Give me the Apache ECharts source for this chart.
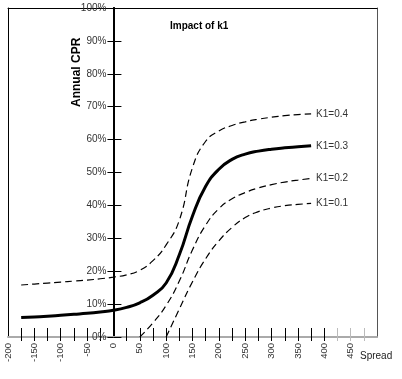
<!DOCTYPE html>
<html><head><meta charset="utf-8">
<script src="https://cdn.jsdelivr.net/npm/echarts@6/dist/echarts.min.js"></script>
<style>html,body{margin:0;padding:0;background:#fff}#c{width:402px;height:379px}</style>
</head><body><div id="c"></div>
<script>
// ---- data ----
const spread = [-175,-150,-125,-100,-75,-50,-25,0,25,50,75,100,125,150,175,200,225,250,275,300,325,350,375];
const cprK04 = [15.8,16.1,16.4,16.7,17.0,17.3,17.7,18.2,18.9,20.3,23.2,28.0,35.5,51.5,59.5,62.6,64.3,65.4,66.2,66.8,67.3,67.6,67.8];
const cprK03 = [5.9,6.1,6.3,6.6,6.9,7.2,7.6,8.1,9.0,10.4,12.7,16.4,25.0,36.8,45.8,51.0,54.0,55.6,56.5,57.1,57.5,57.8,58.1];
const cprK02 = [null,null,null,null,null,null,null,null,null,0,4.3,9.6,17.0,26.5,34.0,39.0,42.0,43.9,45.3,46.3,47.1,47.7,48.2];
const cprK01 = [null,null,null,null,null,null,null,null,null,null,null,0,8.5,16.8,23.8,29.2,33.3,36.3,38.1,39.2,39.9,40.3,40.6];
const seriesNames = ['K1=0.4','K1=0.3','K1=0.2','K1=0.1'];
const xLabelValues = [-200,-150,-100,-50,0,50,100,150,200,250,300,350,400,450];
const xTicksDark = [-175,-150,-125,-100,-75,-50,-25,25,50,75,100,125,150,175,200,225,250,275,300,325,350,375,400];
const xTicksLight = [425,450,475];
const titleText = 'Impact of k1';
const yName = 'Annual CPR';
const xName = 'Spread';

const FONT = '"Liberation Sans", Arial, sans-serif';
function pairs(arr){ return spread.map((x,i)=>[x,arr[i]]).filter(p=>p[1]!==null); }

const allSeries = [cprK04, cprK03, cprK02, cprK01];
const series = allSeries.map((arr, i) => ({
  name: seriesNames[i],
  type: 'line',
  data: pairs(arr),
  showSymbol: false,
  smooth: 0.5,
  xAxisIndex: 0, yAxisIndex: 0,
  z: 5,
  lineStyle: { color: '#000', width: i === 1 ? 3 : 1.2, type: i === 1 ? 'solid' : [7,4] },
  endLabel: { show: true, formatter: seriesNames[i], color: '#333', fontSize: 10, fontFamily: FONT, distance: 5 },
  emphasis: { disabled: true },
  silent: true
}));

const xBase = { type: 'value', min: -200, max: 500, interval: 25, position: 'bottom', splitLine: { show: false } };
const yBase = { type: 'value', min: 0, max: 100, interval: 10, splitLine: { show: false } };
const chart = echarts.init(document.getElementById('c'), null, { renderer: 'canvas' });
chart.setOption({
  animation: false,
  backgroundColor: '#fff',
  grid: { left: 8, top: 8, right: 25, bottom: 42, show: false, containLabel: false, outerBoundsMode: 'none' },
  xAxis: [
    Object.assign({}, xBase, {
      axisLine: { show: true, onZero: false, lineStyle: { color: '#aaa', width: 2 } },
      axisTick: { show: true, customValues: xTicksDark, length: 4, lineStyle: { color: '#000', width: 1 } },
      axisLabel: { show: true, customValues: xLabelValues, rotate: 90, margin: 6, fontSize: 9.5, color: '#333', fontFamily: FONT }
    }),
    Object.assign({}, xBase, {
      axisLine: { show: false, onZero: false },
      axisTick: { show: true, inside: true, customValues: xTicksDark, length: 9, lineStyle: { color: '#000', width: 1 } },
      axisLabel: { show: false }
    }),
    Object.assign({}, xBase, {
      axisLine: { show: false, onZero: false },
      axisTick: { show: true, customValues: xTicksLight, length: 4, lineStyle: { color: '#bbb', width: 1 } },
      axisLabel: { show: false }
    }),
    Object.assign({}, xBase, {
      axisLine: { show: false, onZero: false },
      axisTick: { show: true, inside: true, customValues: xTicksLight, length: 9, lineStyle: { color: '#bbb', width: 1 } },
      axisLabel: { show: false }
    }),
    Object.assign({}, xBase, { position: 'top',
      axisLine: { show: true, onZero: false, lineStyle: { color: '#000', width: 1 } },
      axisTick: { show: false }, axisLabel: { show: false }
    })
  ],
  yAxis: [
    Object.assign({}, yBase, { position: 'left', offset: 0,
      axisLine: { show: true, onZero: false, lineStyle: { color: '#000', width: 2 } },
      axisTick: { show: true, length: 6, lineStyle: { color: '#000' } },
      axisLabel: { formatter: '{value}%', margin: 7, fontSize: 10, color: '#333', fontFamily: FONT } }),
    Object.assign({}, yBase, { position: 'right', offset: 0,
      axisLine: { show: true, onZero: false, lineStyle: { color: '#000', width: 2 } },
      axisTick: { show: true, length: 8, lineStyle: { color: '#000' } },
      axisLabel: { show: false } }),
    Object.assign({}, yBase, { position: 'left',
      axisLine: { show: true, onZero: false, lineStyle: { color: '#000', width: 1 } },
      axisTick: { show: false }, axisLabel: { show: false } }),
    Object.assign({}, yBase, { position: 'right',
      axisLine: { show: true, onZero: false, lineStyle: { color: '#555', width: 1 } },
      axisTick: { show: false }, axisLabel: { show: false } })
  ],
  graphic: [
    { type: 'text', left: 170, top: 21, style: { text: titleText, font: 'bold 10px ' + FONT, fill: '#000' } },
    { type: 'text', x: 71, y: 107, rotation: Math.PI / 2, style: { text: yName, font: 'bold 12px ' + FONT, fill: '#000' } },
    { type: 'text', left: 360, top: 351, style: { text: xName, font: '10px ' + FONT, fill: '#222' } }
  ],
  series: series
});
// place the two y axes on spread = 0 using the x scale
const zeroPx = chart.convertToPixel({ xAxisIndex: 0 }, 0);
const leftPx = chart.convertToPixel({ xAxisIndex: 0 }, -200);
const rightPx = chart.convertToPixel({ xAxisIndex: 0 }, 500);
chart.setOption({ yAxis: [ { offset: -(zeroPx - leftPx) }, { offset: -(rightPx - zeroPx) }, {}, {} ] });
</script></body></html>
